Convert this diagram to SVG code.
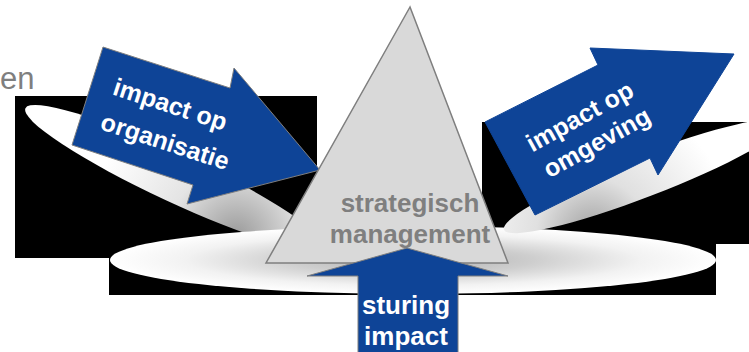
<svg xmlns="http://www.w3.org/2000/svg" width="749" height="352" viewBox="0 0 749 352">
  <style>
    .blk { fill: #000000; }
    .arrow { fill: #0E4497; stroke: #7F7F7F; stroke-width: 1; stroke-linejoin: miter; }
    .wt { font-family: "Liberation Sans", Arial, sans-serif; font-weight: bold; fill: #FFFFFF; text-anchor: middle; }
    .gt { font-family: "Liberation Sans", Arial, sans-serif; font-weight: bold; fill: #7F7F7F; text-anchor: middle; }
  </style>
  <defs>
    <radialGradient id="shL" gradientUnits="userSpaceOnUse" cx="255" cy="205" r="150">
      <stop offset="0" stop-color="#9a9a9a"/>
      <stop offset="0.45" stop-color="#e4e4e4"/>
      <stop offset="1" stop-color="#ffffff"/>
    </radialGradient>
    <radialGradient id="shB" cx="0.5" cy="0.5" r="0.5">
      <stop offset="0" stop-color="#b0b0b0"/>
      <stop offset="0.4" stop-color="#cecece"/>
      <stop offset="0.75" stop-color="#f2f2f2"/>
      <stop offset="1" stop-color="#ffffff"/>
    </radialGradient>
    <radialGradient id="shR" gradientUnits="userSpaceOnUse" cx="575" cy="212" r="140">
      <stop offset="0" stop-color="#a0a0a0"/>
      <stop offset="0.4" stop-color="#e0e0e0"/>
      <stop offset="1" stop-color="#ffffff"/>
    </radialGradient>
  </defs>

  <rect width="749" height="352" fill="#FFFFFF"/>

  <!-- background shadow artefacts -->
  <g id="shadows">
    <rect class="blk" x="15" y="96" width="302" height="162"/>
    <rect class="blk" x="109" y="230" width="607" height="65"/>
    <rect class="blk" x="482" y="122" width="267" height="122"/>
    <ellipse cx="175" cy="178" rx="165" ry="24" transform="rotate(25 175 178)" fill="url(#shL)"/>
    <ellipse cx="413" cy="260" rx="303" ry="34" fill="url(#shB)"/>
    <ellipse cx="644" cy="176" rx="150" ry="21" transform="rotate(-21 644 176)" fill="url(#shR)"/>
  </g>

  <text x="0" y="89" font-family="Liberation Sans, Arial, sans-serif" font-size="31" fill="#7F7F7F">en</text>

  <g id="connectors">
    <g id="arrow-organisatie">
      <polygon class="arrow" points="103,47 230,88 234,68 320,170 187,204 193,185 72,145"/>
      <text class="wt" font-size="25" transform="translate(170,105) rotate(18)" x="0" y="8">impact op</text>
      <text class="wt" font-size="25" transform="translate(165,142) rotate(18)" x="0" y="8">organisatie</text>
    </g>
    <g id="arrow-omgeving">
      <polygon class="arrow" style="stroke:#0E4497" points="485,122 598,65 590,48 734,54 658,175 650,158 535,215"/>
      <text class="wt" font-size="25" transform="translate(580,117) rotate(-29)" x="0" y="8">impact op</text>
      <text class="wt" font-size="25" transform="translate(597,143) rotate(-29)" x="0" y="8">omgeving</text>
    </g>
  </g>

  <g id="node-strategisch">
    <polygon points="410,7 266,263 508,263" fill="#D9D9D9" stroke="#7F7F7F" stroke-width="1.5"/>
    <text class="gt" font-size="26" x="410" y="212">strategisch</text>
    <text class="gt" font-size="26" x="410" y="243">management</text>
  </g>

  <g id="arrow-sturing">
    <polygon class="arrow" points="407,248 508,276 458,276 458,360 358,360 358,276 307,276"/>
    <text class="wt" font-size="26" x="406" y="314">sturing</text>
    <text class="wt" font-size="26" x="406" y="345">impact</text>
  </g>
</svg>
